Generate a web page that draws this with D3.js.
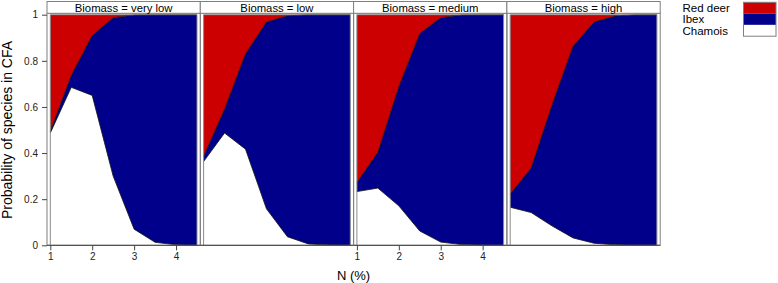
<!DOCTYPE html>
<html>
<head>
<meta charset="utf-8">
<script src="https://cdn.jsdelivr.net/npm/d3@7"></script>
<style>
  body { margin: 0; background: #fff; }
  svg { display: block; font-family: "Liberation Sans", Arial, sans-serif; }
</style>
</head>
<body>
<div id="chart"></div>
<script>
// N (%) values where the probabilities were evaluated
const nValues = [1, 1.5, 2, 2.5, 3, 3.5, 4, 4.5]
const biomassLevels = ["very low", "low", "medium", "high"]
const speciesKeys = ["Chamois", "Ibex", "Red deer"]
const legendOrder = ["Red deer", "Ibex", "Chamois"]
const yTicks = [0, 0.2, 0.4, 0.6, 0.8, 1]
const xTicks = [1, 2, 3, 4]

// probabilities per biomass panel
const chamois = {
  "very low": [0.487, 0.685, 0.65, 0.30, 0.07, 0.013, 0.002, 0],
  "low":      [0.363, 0.487, 0.417, 0.158, 0.037, 0.006, 0.001, 0],
  "medium":   [0.233, 0.248, 0.171, 0.062, 0.014, 0.003, 0, 0],
  "high":     [0.165, 0.142, 0.084, 0.032, 0.009, 0.002, 0, 0]
}
const ibex = {
  "very low": [0.007, 0.051, 0.26, 0.687, 0.929, 0.987, 0.998, 1],
  "low":      [0.022, 0.103, 0.413, 0.81, 0.958, 0.994, 0.999, 1],
  "medium":   [0.039, 0.155, 0.516, 0.856, 0.973, 0.996, 1, 1],
  "high":     [0.057, 0.193, 0.526, 0.831, 0.959, 0.992, 1, 1]
}
const redDeer = {
  "very low": [0.506, 0.264, 0.09, 0.013, 0.001, 0, 0, 0],
  "low":      [0.615, 0.41, 0.17, 0.032, 0.005, 0, 0, 0],
  "medium":   [0.728, 0.597, 0.313, 0.082, 0.013, 0.001, 0, 0],
  "high":     [0.778, 0.665, 0.39, 0.137, 0.032, 0.006, 0, 0]
}

const colors = {"Red deer": "#cc0000", "Ibex": "#00008b", "Chamois": "#ffffff"}

const width = 778
const height = 283
const panelX0 = 47
const panelW = 153.3
const pad = 3.3
const stripTop = 1.5
const stripBottom = 13.3
const plotTop = 14.7
const plotBottom = 245.3
const borderCol = "#7f7f7f"

const svg = d3.select("#chart").append("svg")
  .attr("width", width)
  .attr("height", height)

const y = d3.scaleLinear().domain([0, 1]).range([plotBottom, plotTop])

biomassLevels.forEach(function(level, i) {
  const px = panelX0 + i * panelW
  const x = d3.scaleLinear().domain([1, 4.5]).range([px + pad, px + panelW - pad])

  const rows = nValues.map(function(n, j) {
    return {n: n, "Chamois": chamois[level][j], "Ibex": ibex[level][j], "Red deer": redDeer[level][j]}
  })
  const series = d3.stack().keys(speciesKeys)(rows)

  const area = d3.area()
    .x(function(d) { return x(d.data.n) })
    .y0(function(d) { return y(d[0]) })
    .y1(function(d) { return y(Math.min(1, d[1])) })

  const g = svg.append("g")

  g.selectAll("path.area")
    .data(series)
    .enter()
    .append("path")
    .attr("class", "area")
    .attr("d", area)
    .style("fill", function(d) { return colors[d.key] })
    .style("stroke", "none")

  // boundaries between species
  const line = d3.line()
    .x(function(d) { return x(d.data.n) })
    .y(function(d) { return y(Math.min(1, d[1])) })
  g.selectAll("path.edge")
    .data(series.slice(0, 2))
    .enter()
    .append("path")
    .attr("class", "edge")
    .attr("d", line)
    .style("fill", "none")
    .style("stroke", "#111")
    .style("stroke-width", 0.8)

  // polygon side edges
  ;[1, 4.5].forEach(function(v) {
    g.append("line")
      .attr("x1", x(v)).attr("x2", x(v))
      .attr("y1", plotTop).attr("y2", plotBottom)
      .style("stroke", "#8a8a8a")
      .style("stroke-width", 1)
  })
  g.append("line")
    .attr("x1", x(1)).attr("x2", x(4.5))
    .attr("y1", plotTop).attr("y2", plotTop)
    .style("stroke", "#8a8a8a")
    .style("stroke-width", 0.8)

  // panel and strip boxes
  g.append("rect")
    .attr("x", px).attr("y", stripBottom)
    .attr("width", panelW).attr("height", plotBottom - stripBottom)
    .style("fill", "none")
    .style("stroke", borderCol)
    .style("stroke-width", 1)
  g.append("rect")
    .attr("x", px).attr("y", stripTop)
    .attr("width", panelW).attr("height", stripBottom - stripTop)
    .style("fill", "#fff")
    .style("stroke", borderCol)
    .style("stroke-width", 1)
  g.append("text")
    .attr("x", px + panelW / 2)
    .attr("y", 11.6)
    .style("text-anchor", "middle")
    .style("font-size", "11.3px")
    .style("fill", "#000")
    .text("Biomass = " + level)

  // bottom line
  g.append("line")
    .attr("x1", px).attr("x2", px + panelW)
    .attr("y1", plotBottom).attr("y2", plotBottom)
    .style("stroke", "#444")
    .style("stroke-width", 1)

  if (i % 2 == 0) {
    const ax = svg.append("g")
      .attr("transform", "translate(0," + plotBottom + ")")
      .call(d3.axisBottom(x).tickValues(xTicks).tickSize(5).tickPadding(3).tickFormat(d3.format("d")))
    ax.select(".domain").remove()
    ax.selectAll("line").style("stroke", "#444")
    ax.selectAll("text").style("font-size", "10px").style("fill", "#222")
      .style("font-family", "'Liberation Sans', Arial, sans-serif")
  }
})

// y axis
const ay = svg.append("g")
  .attr("transform", "translate(" + panelX0 + ",0)")
  .call(d3.axisLeft(y).tickValues(yTicks).tickSize(5).tickPadding(4)
    .tickFormat(function(d) { return d3.format("")(+d.toFixed(1)) }))
ay.select(".domain").remove()
ay.selectAll("line").style("stroke", "#444")
ay.selectAll("text").style("font-size", "10px").style("fill", "#222")
  .style("font-family", "'Liberation Sans', Arial, sans-serif")

// axis titles
svg.append("text")
  .attr("transform", "rotate(-90)")
  .attr("x", -(plotTop + plotBottom) / 2)
  .attr("y", 12)
  .style("text-anchor", "middle")
  .style("font-size", "14px")
  .text("Probability of species in CFA")

svg.append("text")
  .attr("x", 353.5)
  .attr("y", 279.5)
  .style("text-anchor", "middle")
  .style("font-size", "13px")
  .text("N (%)")

// legend
const legendRowH = 11.3
const legend = svg.append("g")
legend.selectAll("rect")
  .data(legendOrder)
  .enter()
  .append("rect")
  .attr("x", 743.5)
  .attr("y", function(d, i) { return 2.3 + i * legendRowH })
  .attr("width", 32.5)
  .attr("height", legendRowH)
  .style("fill", function(d) { return colors[d] })
  .style("stroke", "none")
legend.append("rect")
  .attr("x", 743.5).attr("y", 2.3)
  .attr("width", 32.5).attr("height", legendRowH * 3)
  .style("fill", "none")
  .style("stroke", borderCol)
legend.selectAll("text")
  .data(legendOrder)
  .enter()
  .append("text")
  .attr("x", 682.5)
  .attr("y", function(d, i) { return 11.5 + i * 11.8 })
  .style("font-size", "11.5px")
  .text(function(d) { return d })
</script>
</body>
</html>
